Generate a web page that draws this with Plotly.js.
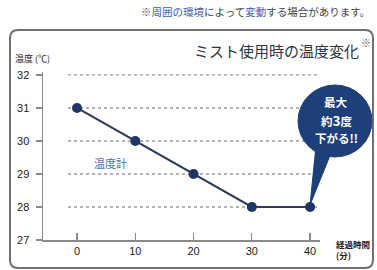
<!DOCTYPE html>
<html>
<head>
<meta charset="utf-8">
<script src="https://cdn.plot.ly/plotly-3.0.1.min.js"></script>
<style>html,body{margin:0;padding:0;background:#fff;}#chart{width:377px;height:270px;}</style>
</head>
<body>
<div id="chart"></div>
<script>
const minutes = [0, 10, 20, 30, 40];
const temps = [31, 30, 29, 28, 28];
const yTicks = [27, 28, 29, 30, 31, 32];
const xTicks = [0, 10, 20, 30, 40];
const gridValues = [28, 29, 30, 31, 32];
const seriesName = "温度計";
const titleText = "ミスト使用時の温度変化";
const noteText = '※<span style="color:#3d5fa8">周囲の環境</span>によって<span style="color:#3d5fa8">変動</span>する場合があります。';
const yLabel = "温度 (℃)";
const xLabel = "経過時間<br>(分)";
const bubbleLines = ["最大", "約<span style='font-size:13.5px'>3</span>度", "下がる!!"];

const JP = '"Noto Sans CJK JP", "Noto Sans", sans-serif';
const xRange = [-5.84, 41.7];

// pixel -> paper helpers (plot area: l=43, width=277, bottom=240, height=168)
const px = v => (v - 43) / 277;
const py = v => (240 - v) / 168;

const shapes = [];
gridValues.forEach(g => shapes.push({
  type: 'line', xref: 'x', yref: 'y', x0: -1.55, x1: xRange[1], y0: g, y1: g,
  line: {color: '#9a9a9a', width: 1.3, dash: 'dot'}, layer: 'below'
}));
// outer rounded frame
const L = px(10), R = px(373), T = py(30), B = py(268), rx = 8/277, ry = 8/168;
shapes.push({
  type: 'path', xref: 'paper', yref: 'paper',
  path: `M ${L+rx} ${T} L ${R-rx} ${T} Q ${R} ${T} ${R} ${T-ry} L ${R} ${B+ry} Q ${R} ${B} ${R-rx} ${B} L ${L+rx} ${B} Q ${L} ${B} ${L} ${B+ry} L ${L} ${T-ry} Q ${L} ${T} ${L+rx} ${T} Z`,
  line: {color: '#707070', width: 2}, fillcolor: 'rgba(0,0,0,0)', layer: 'below'
});
// speech bubble
shapes.push({
  type: 'path', xref: 'paper', yref: 'paper',
  path: `M ${px(316)} ${py(146)} L ${px(310)} ${py(205)} L ${px(331)} ${py(153)} Z`,
  fillcolor: '#1d3f7a', line: {color: '#1d3f7a', width: 1}, layer: 'above'
});
shapes.push({
  type: 'circle', xref: 'paper', yref: 'paper',
  x0: px(298), x1: px(372), y0: py(157), y1: py(85),
  fillcolor: '#1d3f7a', line: {color: '#1d3f7a', width: 1}, layer: 'above'
});

const trace = {
  x: minutes, y: temps, type: 'scatter', mode: 'lines+markers', name: seriesName,
  line: {color: '#2a3a58', width: 2},
  marker: {color: '#1e3566', size: 10},
  cliponaxis: false, showlegend: false
};

const bubbleY = [102, 120, 138];
const bubbleAnns = bubbleLines.map((t, i) => ({
  xref: 'paper', yref: 'paper', x: px(336), y: py(bubbleY[i]), xanchor: 'center', yanchor: 'middle',
  borderpad: 0, borderwidth: 0,
  text: '<b>' + t + '</b>', showarrow: false, font: {size: 11.5, color: '#fff', family: JP}
}));

const tickFont = {size: 11, color: '#222', family: '"Liberation Sans", Arial, sans-serif'};

const layout = {
  width: 377, height: 270,
  margin: {l: 43, r: 57, t: 72, b: 30, pad: 0},
  paper_bgcolor: '#fff', plot_bgcolor: '#fff',
  font: {family: JP, color: '#333'},
  xaxis: {
    range: xRange, tickvals: xTicks, ticktext: xTicks.map(String),
    showgrid: false, zeroline: false, showline: true, linecolor: '#8a8a8a', linewidth: 1.5,
    ticks: 'inside', ticklen: 7, tickcolor: '#8a8a8a', tickwidth: 1.2,
    tickfont: tickFont
  },
  yaxis: {
    range: [27, 32.09], tickvals: yTicks, ticktext: yTicks.map(String),
    showgrid: false, zeroline: false, showline: true, linecolor: '#8a8a8a', linewidth: 1.5,
    ticks: 'outside', ticklen: 6, tickcolor: '#8a8a8a', tickwidth: 1.2,
    tickfont: tickFont,
    ticklabelstandoff: 4
  },
  shapes: shapes,
  annotations: [
    {xref: 'paper', yref: 'paper', x: px(372), y: py(12), xanchor: 'right', yanchor: 'middle',
     text: noteText, showarrow: false, font: {size: 10.5, color: '#444', family: JP}},
    {xref: 'paper', yref: 'paper', x: px(276), y: py(50), xanchor: 'center', yanchor: 'middle',
     text: titleText, showarrow: false, font: {size: 15, color: '#2f3440', family: JP}},
    {xref: 'paper', yref: 'paper', x: px(366), y: py(43), xanchor: 'center', yanchor: 'middle',
     text: '※', showarrow: false, font: {size: 10, color: '#555', family: JP}},
    {xref: 'paper', yref: 'paper', x: px(13), y: py(58), xanchor: 'left', yanchor: 'middle',
     text: yLabel, showarrow: false, font: {size: 9, color: '#222', family: JP}},
    {xref: 'x', yref: 'y', x: 5.7, y: 29.33, xanchor: 'center', yanchor: 'middle',
     text: seriesName, showarrow: false, font: {size: 11, color: '#4f6fae', family: JP}},
    {xref: 'paper', yref: 'paper', x: px(334), y: py(249), xanchor: 'left', yanchor: 'middle', align: 'left',
     text: '<b>' + xLabel + '</b>', showarrow: false, font: {size: 8.5, color: '#222', family: JP}}
  ].concat(bubbleAnns)
};

Plotly.newPlot('chart', [trace], layout, {displayModeBar: false, staticPlot: true});
</script>
</body>
</html>
